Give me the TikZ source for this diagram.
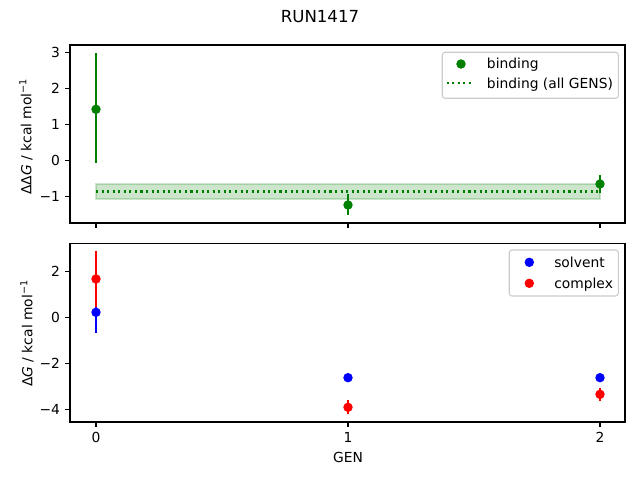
\documentclass[tikz,border=0pt]{standalone}
\usepackage{fontspec}
\setmainfont{DejaVu Sans}
\definecolor{mgreen}{HTML}{008000}
\definecolor{mblue}{HTML}{0000FF}
\definecolor{mred}{HTML}{FF0000}
\definecolor{legedge}{HTML}{CCCCCC}
\begin{document}
\begin{tikzpicture}[x=0.01in,y=-0.01in,
  spine/.style={line width=0.8bp,black},
  tickmark/.style={line width=0.8bp,black},
  ticklab/.style={inner sep=0pt,font=\fontsize{10}{12}\selectfont,text height=7.3pt,text depth=0pt},
  axlab/.style={inner sep=0pt,font=\fontsize{10}{12}\selectfont},
  errbar/.style={line width=1.5bp},
  dot/.style={circle,inner sep=0pt,minimum size=6.8bp},
  legbox/.style={draw=legedge,fill=white,fill opacity=0.8,draw opacity=1,line width=0.8bp,rounded corners=2bp},
  legtext/.style={inner sep=0pt,anchor=base west,font=\fontsize{10}{12}\selectfont},
  bandline/.style={mgreen,line width=1.5bp,dash pattern=on 1.5bp off 2.5bp},
]
\useasboundingbox[fill=white] (0,0) rectangle (640,480);

% title
\node[inner sep=0pt,font=\fontsize{12}{14}\selectfont,text height=8.8pt,text depth=0pt] (title) at (320,16) {RUN1417};

% ---------------- top panel ----------------
% band and mean
\fill[mgreen,fill opacity=0.2] (96,184) rectangle (600,199);
\draw[mgreen,opacity=0.2,line width=1bp] (96,184) rectangle (600,199);
\draw[bandline] (96,191.5) -- (600,191.5);
% error bars
\draw[errbar,mgreen] (96,53.3) -- (96,163.3);
\draw[errbar,mgreen] (348,194.5) -- (348,215);
\draw[errbar,mgreen] (600,175) -- (600,193);
% points
\node[dot,fill=mgreen] (b0) at (96,109.3) {};
\node[dot,fill=mgreen] (b1) at (348,205) {};
\node[dot,fill=mgreen] (b2) at (600,184) {};
% frame
\draw[spine] (70,45) rectangle (625,223);
% y ticks
\foreach \v/\yy in {3/52.3,2/88.3,1/124.3,0/160.3,$-$1/196.3}{
  \draw[tickmark] (70,\yy) -- (65.1,\yy);
}
\node[ticklab,anchor=east] (ty3) at (60.3,52.3) {3};
\node[ticklab,anchor=east] (ty2) at (60.3,88.3) {2};
\node[ticklab,anchor=east] (ty1) at (60.3,124.3) {1};
\node[ticklab,anchor=east] (ty0) at (60.3,160.3) {0};
\node[ticklab,anchor=east] (tym1) at (60.3,196.3) {−1};
% x ticks (no labels)
\foreach \xx in {96,348,600}{
  \draw[tickmark] (\xx,223) -- (\xx,227.9);
}
% ylabel
\node[axlab,rotate=90] (ylab1) at (26,136.5) {ΔΔ\textit{G} / kcal mol\textsuperscript{−1}};
% legend
\draw[legbox] (442.3,52.3) rectangle (618.3,98.3);
\node[dot,fill=mgreen] (lg1) at (461,64) {};
\node[legtext] (lt1) at (486.7,69) {binding};
\coordinate (lda) at (446.7,83.3);
\coordinate (ldb) at (474.3,83.3);
\draw[bandline] (lda) -- (ldb);
\node[legtext] (lt2) at (486.7,88.3) {binding (all GENS)};

% ---------------- bottom panel ----------------
% error bars
\draw[errbar,mblue] (96,291.3) -- (96,333.3);
\draw[errbar,mred] (96,251) -- (96,307);
\draw[errbar,mred] (348,400) -- (348,414);
\draw[errbar,mred] (600,387.7) -- (600,401);
% points
\node[dot,fill=mblue] (s0) at (96,312.3) {};
\node[dot,fill=mblue] (s1) at (348,377.7) {};
\node[dot,fill=mblue] (s2) at (600,377.7) {};
\node[dot,fill=mred] (c0) at (96,279) {};
\node[dot,fill=mred] (c1) at (348,407.3) {};
\node[dot,fill=mred] (c2) at (600,394.3) {};
% frame
\draw[spine] (70,243.3) rectangle (625,422);
% y ticks
\foreach \yy in {271.3,317.3,363.3,409.3}{
  \draw[tickmark] (70,\yy) -- (65.1,\yy);
}
\node[ticklab,anchor=east] (by2) at (60.3,271.3) {2};
\node[ticklab,anchor=east] (by0) at (60.3,317.3) {0};
\node[ticklab,anchor=east] (bym2) at (60.3,363.3) {−2};
\node[ticklab,anchor=east] (bym4) at (60.3,409.3) {−4};
% x ticks
\foreach \xx in {96,348,600}{
  \draw[tickmark] (\xx,422) -- (\xx,426.9);
}
\node[ticklab,anchor=north] (bx0) at (96,431.7) {0};
\node[ticklab,anchor=north] (bx1) at (348,431.7) {1};
\node[ticklab,anchor=north] (bx2) at (600,431.7) {2};
% labels
\node[axlab,text height=7.3pt,text depth=0pt] (xlab) at (348,457.3) {GEN};
\node[axlab,rotate=90] (ylab2) at (27,333.3) {Δ\textit{G} / kcal mol\textsuperscript{−1}};
% legend
\draw[legbox] (509.3,250) rectangle (618.3,296);
\node[dot,fill=mblue] (lg3) at (529.3,262.3) {};
\node[legtext] (lt3) at (554,267.3) {solvent};
\node[dot,fill=mred] (lg4) at (529.3,283.3) {};
\node[legtext] (lt4) at (554,288.3) {complex};
\end{tikzpicture}
\end{document}
